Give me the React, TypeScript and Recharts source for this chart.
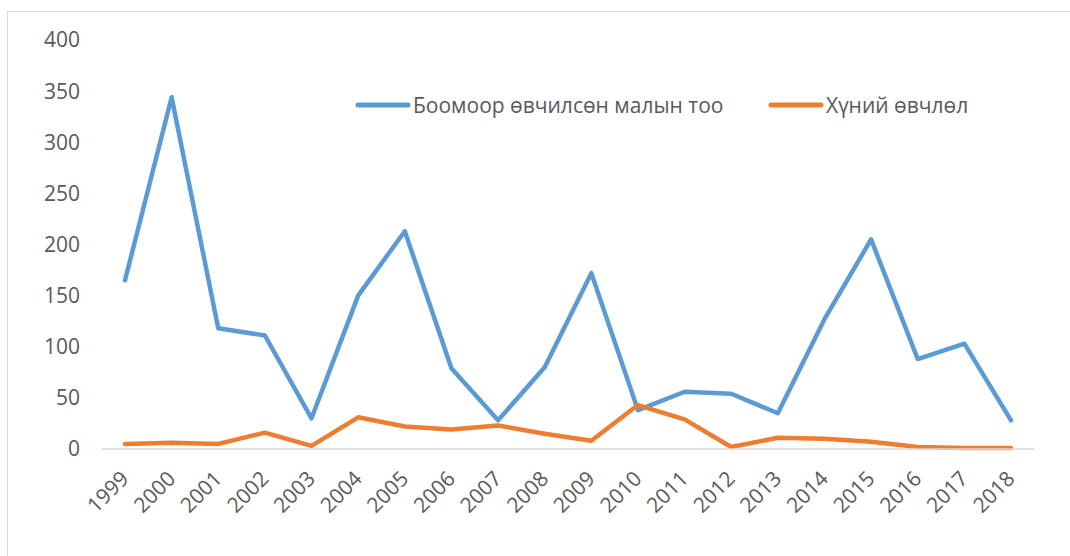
import React from 'react';
import { LineChart, Line, XAxis, YAxis, Legend } from 'recharts';

const years = ['1999','2000','2001','2002','2003','2004','2005','2006','2007','2008','2009','2010','2011','2012','2013','2014','2015','2016','2017','2018'];
const livestock = [165, 344, 118, 111, 30, 150, 213, 79, 28, 80, 172, 38, 56, 54, 35, 127, 205, 88, 103, 28];
const human = [5, 6, 5, 16, 3, 31, 22, 19, 23, 15, 8, 43, 29, 2, 11, 10, 7, 2, 1, 1];
const yTicks = [0, 50, 100, 150, 200, 250, 300, 350, 400];
const seriesNames = ['Боомоор өвчилсөн малын тоо', 'Хүний өвчлөл'];
const colors = ['#5b9bd5', '#ed7d31'];

const data = years.map((y, i) => ({ year: y, a: livestock[i], b: human[i] }));

const FONT = '"Open Sans", sans-serif';
const TEXT = '#595959';
const FS = 21;

const XTick = (props: any) => {
  const { x, y, payload } = props;
  const ax = x + 5;
  const ay = y + 23;
  return (
    <text
      x={ax}
      y={ay}
      transform={`rotate(-45, ${ax}, ${ay})`}
      textAnchor="end"
      fill={TEXT}
      fontSize={FS}
      fontFamily={FONT}
    >
      {payload.value}
    </text>
  );
};

const LegendContent = () => (
  <div style={{ position: 'relative', width: 700, height: 30, fontFamily: FONT, fontSize: FS, color: TEXT }}>
    {seriesNames.map((n, i) => (
      <div key={n} style={{ position: 'absolute', left: i === 0 ? 0 : 413, top: 0, display: 'flex', alignItems: 'center', whiteSpace: 'nowrap' }}>
        <svg width={56} height={10} style={{ marginRight: 2 }}>
          <line x1={3} y1={5} x2={53} y2={5} stroke={colors[i]} strokeWidth={5} strokeLinecap="round" />
        </svg>
        <span>{n}</span>
      </div>
    ))}
  </div>
);

export default function App() {
  return (
    <div style={{ position: 'absolute', left: 0, top: 0, width: 1070, height: 556, overflow: 'hidden', background: '#fff' }}>
      <div style={{ position: 'absolute', left: 7, top: 11, width: 1200, height: 700, border: '1px solid #d9d9d9' }} />
      <div style={{ position: 'absolute', left: 0, top: 0 }}>
        <LineChart width={1070} height={556} data={data} margin={{ top: 40, right: 36, left: 0, bottom: 0 }}>
          <XAxis
            dataKey="year"
            height={107}
            interval={0}
            padding={{ left: 23, right: 23 }}
            tickLine={false}
            axisLine={{ stroke: '#d9d9d9', strokeWidth: 1.5 }}
            tick={<XTick />}
          />
          <YAxis
            width={102}
            domain={[0, 400]}
            ticks={yTicks}
            interval={0}
            axisLine={false}
            tickLine={false}
            tickSize={0}
            tickMargin={22}
            tick={{ fill: TEXT, fontSize: FS, fontFamily: FONT }}
          />
          <Legend
            layout="horizontal"
            verticalAlign="middle"
            align="center"
            content={<LegendContent />}
            wrapperStyle={{ position: 'absolute', left: 355, top: 91, width: 700 }}
          />
          <Line dataKey="a" name={seriesNames[0]} stroke={colors[0]} strokeWidth={4.5} dot={false} isAnimationActive={false} strokeLinejoin="round" strokeLinecap="round" />
          <Line dataKey="b" name={seriesNames[1]} stroke={colors[1]} strokeWidth={4.5} dot={false} isAnimationActive={false} strokeLinejoin="round" strokeLinecap="round" />
        </LineChart>
      </div>
    </div>
  );
}
